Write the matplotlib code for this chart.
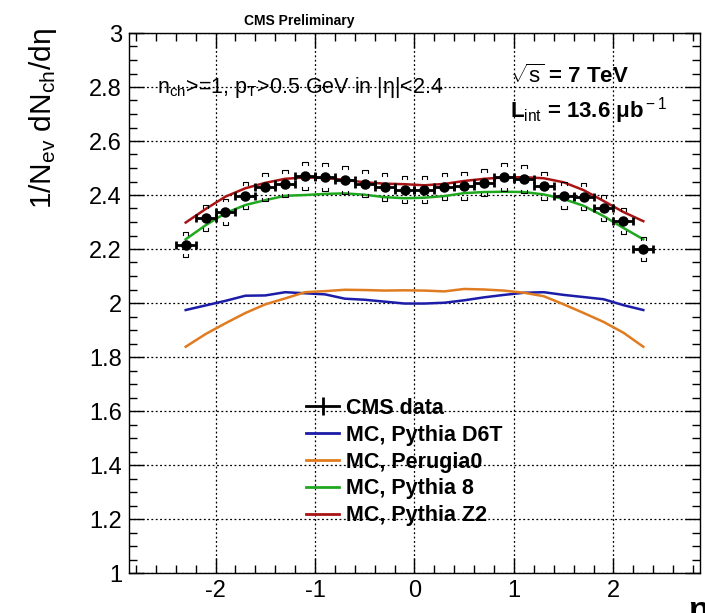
import numpy as np
import matplotlib
matplotlib.use("Agg")
import matplotlib.pyplot as plt
from matplotlib.lines import Line2D

plt.rcParams['font.family'] = ['Liberation Sans', 'DejaVu Sans']
plt.rcParams['mathtext.fontset'] = 'custom'
plt.rcParams['mathtext.rm'] = 'Liberation Sans'
plt.rcParams['mathtext.it'] = 'Liberation Sans:italic'
plt.rcParams['mathtext.bf'] = 'Liberation Sans:bold'
plt.rcParams['axes.unicode_minus'] = False

# ---------------- data ----------------
eta = [-2.3, -2.1, -1.9, -1.7, -1.5, -1.3, -1.1, -0.9, -0.7, -0.5, -0.3, -0.1,
       0.1, 0.3, 0.5, 0.7, 0.9, 1.1, 1.3, 1.5, 1.7, 1.9, 2.1, 2.3]
cms_data = [2.216, 2.314, 2.338, 2.397, 2.430, 2.442, 2.470, 2.468, 2.456, 2.442, 2.429, 2.420,
            2.420, 2.431, 2.434, 2.446, 2.466, 2.460, 2.434, 2.397, 2.394, 2.351, 2.305, 2.200]
cms_syst = [0.046, 0.048, 0.049, 0.050, 0.051, 0.051, 0.052, 0.052, 0.051, 0.051, 0.051, 0.050,
            0.050, 0.051, 0.051, 0.051, 0.052, 0.052, 0.051, 0.050, 0.050, 0.049, 0.048, 0.046]
eta_halfwidth = [0.1] * len(eta)

d6t = [1.974, 1.991, 2.008, 2.027, 2.028, 2.040, 2.036, 2.032, 2.016, 2.012, 2.005, 1.998,
       1.998, 2.001, 2.010, 2.021, 2.030, 2.038, 2.040, 2.030, 2.022, 2.014, 1.992, 1.974]
perugia0 = [1.838, 1.885, 1.925, 1.963, 1.995, 2.017, 2.040, 2.044, 2.049, 2.048, 2.046, 2.047,
            2.046, 2.043, 2.052, 2.050, 2.046, 2.038, 2.025, 1.995, 1.963, 1.930, 1.890, 1.838]
pythia8 = [2.236, 2.288, 2.333, 2.363, 2.381, 2.397, 2.400, 2.404, 2.406, 2.401, 2.392, 2.388,
           2.390, 2.396, 2.407, 2.411, 2.412, 2.411, 2.402, 2.385, 2.360, 2.322, 2.278, 2.236]
z2 = [2.298, 2.348, 2.394, 2.425, 2.445, 2.460, 2.465, 2.463, 2.456, 2.447, 2.442, 2.440,
      2.436, 2.441, 2.452, 2.460, 2.465, 2.466, 2.462, 2.447, 2.418, 2.378, 2.337, 2.303]

labels = ['CMS data', 'MC, Pythia D6T', 'MC, Perugia0', 'MC, Pythia 8', 'MC, Pythia Z2']
colors = ['black', '#1c1ca8', '#e07b20', '#1fa81f', '#a81414']

# ---------------- figure ----------------
W, H = 705, 613
fig = plt.figure(figsize=(W / 100, H / 100), dpi=100)
ax = fig.add_axes([129 / W, 1 - 573 / H, (700 - 129) / W, (573 - 33) / H])

ax.set_xlim(-2.87, 2.87)
ax.set_ylim(1.0, 3.0)
ax.set_xticks([-2, -1, 0, 1, 2])
ax.set_xticklabels(['-2', '-1', '0', '1', '2'])
ax.set_xticks(np.arange(-2.8, 2.81, 0.2), minor=True)
ax.set_yticks(np.arange(1.0, 3.01, 0.2))
ax.set_yticks(np.arange(1.0, 3.001, 0.05), minor=True)
ax.set_yticklabels(['1', '1.2', '1.4', '1.6', '1.8', '2', '2.2', '2.4', '2.6', '2.8', '3'])
ax.tick_params(which='both', direction='in', top=True, right=True, labelsize=17,
               width=1.0, colors='black')
ax.tick_params(which='major', length=11, pad=5)
ax.tick_params(which='minor', length=6)
for s in ax.spines.values():
    s.set_linewidth(1.0)
ax.grid(True, which='major', color='black', linestyle=(0, (1.5, 2.0)), linewidth=0.9)
ax.set_axisbelow(True)

# MC curves
for vals, c in zip([d6t, perugia0, pythia8, z2], colors[1:]):
    ax.plot(eta, vals, color=c, lw=1.8, solid_joinstyle='round', zorder=3)

# systematic brackets
bw = 0.028
bh = 0.011
for x, y, s in zip(eta, cms_data, cms_syst):
    yt = y + s
    yb = y - s
    ax.plot([x - bw, x - bw, x + bw, x + bw], [yt - bh, yt, yt, yt - bh],
            color='black', lw=0.8, zorder=4)
    ax.plot([x - bw, x - bw, x + bw, x + bw], [yb + bh, yb, yb, yb + bh],
            color='black', lw=0.8, zorder=4)

# data points
ax.errorbar(eta, cms_data, xerr=eta_halfwidth, fmt='o', color='black', ms=6.5,
            elinewidth=2.0, capsize=3, capthick=2.0, zorder=5)

# legend
handles = [Line2D([], [], color='black', lw=2, marker='|', ms=13, mew=2)]
handles += [Line2D([], [], color=c, lw=2) for c in colors[1:]]
fig.legend(handles, labels, loc='upper left', bbox_to_anchor=(306 / W, 1 - 398 / H),
           bbox_transform=fig.transFigure, frameon=False, borderpad=0, borderaxespad=0,
           handlelength=1.55, handletextpad=0.3, labelspacing=0.27,
           prop={'size': 15.5, 'weight': 'bold'})

# texts
fig.text(299 / W, 1 - 21 / H, 'CMS Preliminary', ha='center', va='center',
         fontsize=10, fontweight='bold')
fig.text(157 / W, 1 - 88 / H, r'n$_{\rm ch}$>=1, p$_{\rm T}$>0.5 GeV in |η|<2.4',
         ha='left', va='center', fontsize=15.5)
fig.text(510 / W, 1 - 76 / H, r'$\sqrt{\rm s}$ = 7 TeV', ha='left', va='center',
         fontsize=16, fontweight='bold')
fig.text(510 / W, 1 - 111 / H, r'L$_{\rm int}$ = 13.6 μb$^{\rm -1}$', ha='left',
         va='center', fontsize=16, fontweight='bold')
fig.text(43 / W, 1 - 28 / H, r'1/N$_{\rm ev}$ dN$_{\rm ch}$/dη', rotation=90,
         ha='center', va='top', fontsize=21.5)
fig.text(688 / W, 1 - 596 / H, 'η', ha='left', va='top', fontsize=24, fontweight='bold')

fig.savefig('out.png', dpi=100)
